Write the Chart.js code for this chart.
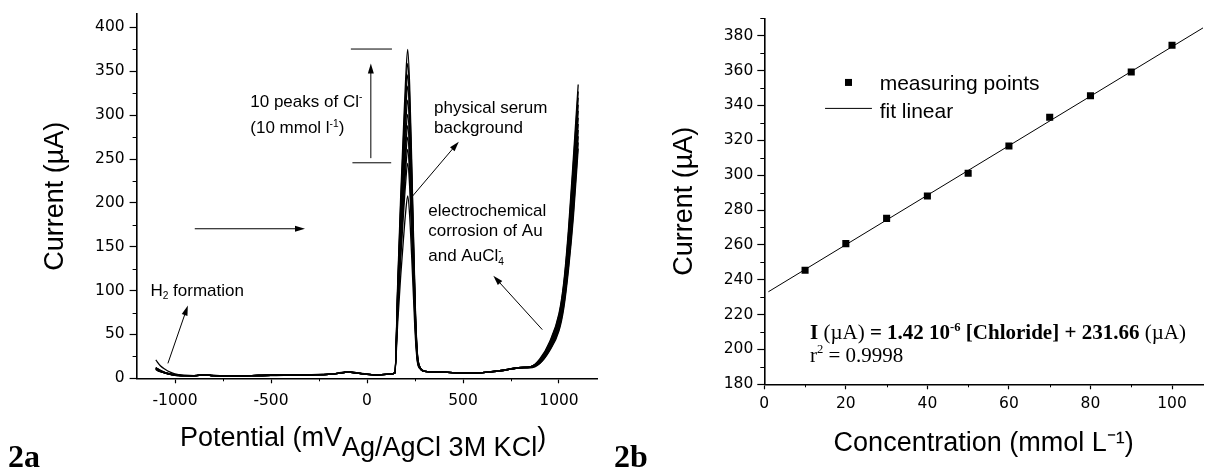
<!DOCTYPE html>
<html>
<head>
<meta charset="utf-8">
<script src="https://cdn.jsdelivr.net/npm/chart.js@4.4.0/dist/chart.umd.min.js"></script>
<style>
  html, body { margin: 0; padding: 0; background: #fff; width: 1208px; height: 469px; overflow: hidden; }
  canvas { position: absolute; top: 0; }
  #chartA { left: 0; }
  #chartB { left: 600px; }
</style>
</head>
<body>
<canvas id="chartA" width="600" height="469"></canvas>
<canvas id="chartB" width="608" height="469"></canvas>
<script>
// ---- 2a : sweeps in physiological serum + 10 chloride additions ----
var potential = [-1100, -1075, -1050, -1025, -1000, -950, -900, -850, -800, -700, -600, -500, -400, -300, -200, -150, -100, -50, 0, 50, 100,
  145, 160, 175, 190, 200, 212, 222, 232, 242, 252, 262, 275, 300, 400, 500, 600, 700, 800, 850, 900, 950, 1000, 1025, 1050, 1075, 1100];

var serumBackground = [21, 14, 10, 7, 5, 3.5, 3, 4, 3.5, 2.5, 3, 3.5, 3.5, 4, 4.5, 5.5, 7, 6, 4.5, 4, 4.5,
  6, 63, 115, 159, 186, 208, 186, 142, 93, 46, 19, 11, 8, 7, 6, 6.5, 8.5, 12, 12, 17, 31, 54, 80, 125, 184, 262];
var chloride1 = [12, 8, 6, 5, 4, 3, 3, 3.5, 3, 2.5, 3, 3.5, 3.5, 4, 4.5, 5.5, 7, 6, 4.5, 4, 4.5,
  6, 73, 135, 187, 219, 245, 219, 167, 109, 54, 21, 12, 8, 7, 6, 6.5, 8.5, 12, 12.5, 17, 32, 56, 83, 129, 190, 269];
var chloride2 = [11, 8, 6, 4.5, 3.5, 3, 2.5, 4, 3, 2.5, 3, 3, 3.5, 4, 5, 5.5, 7.5, 6, 4.5, 4, 4.5,
  6, 78, 143, 199, 233, 261, 233, 178, 116, 57, 22, 12, 8, 7, 6, 6.5, 8.5, 12, 12.5, 18, 33, 58, 86, 133, 197, 276];
var chloride3 = [10, 7.5, 6, 4.5, 3.5, 3, 3, 3.5, 3, 2.5, 3, 3.5, 3.5, 4, 4.5, 5.5, 7, 6, 4.5, 4, 4.5,
  6, 82, 151, 209, 246, 275, 246, 187, 122, 60, 23, 12, 8, 7, 6, 6.5, 8.5, 12, 12.5, 18, 34, 60, 89, 138, 203, 283];
var chloride4 = [12, 8.5, 6.5, 5, 4, 3, 3, 3.5, 3, 2.5, 3, 3.5, 4, 4, 4.5, 5.5, 7, 6, 5, 4, 4.5,
  6, 85, 158, 219, 257, 288, 257, 196, 127, 62, 24, 12, 8, 7, 6, 6.5, 8.5, 12, 12.5, 19, 35, 62, 92, 142, 210, 290];
var chloride5 = [11, 8, 6, 4.5, 4, 3, 3, 3.5, 3, 3, 3, 3.5, 3.5, 4, 4.5, 6, 7.5, 6, 4.5, 4, 4.5,
  6, 89, 165, 229, 269, 301, 269, 205, 133, 65, 25, 12.5, 8, 7, 6, 6.5, 9, 12, 13, 19, 36, 64, 95, 147, 217, 297];
var chloride6 = [10, 7.5, 6, 4.5, 3.5, 3, 3, 4, 3, 2.5, 3, 3.5, 3.5, 4, 4.5, 5.5, 7, 6, 4.5, 4, 4.5,
  6, 94, 174, 241, 283, 317, 283, 216, 140, 68, 26, 12.5, 8, 7, 6, 6.5, 9, 12, 13, 20, 37, 66, 98, 152, 224, 305];
var chloride7 = [12, 9, 6.5, 5, 4, 3, 3, 3.5, 3, 2.5, 3, 3.5, 3.5, 4, 4.5, 5.5, 7, 6, 4.5, 4, 4.5,
  6, 98, 182, 253, 298, 333, 298, 227, 147, 71, 27, 12.5, 8, 7, 6, 6.5, 9, 12.5, 13, 20, 38, 68, 101, 157, 231, 312];
var chloride8 = [11, 8, 6, 4.5, 3.5, 3, 3, 3.5, 3, 2.5, 3, 3.5, 3.5, 4, 4.5, 5.5, 7, 6, 4.5, 4, 4.5,
  6, 102, 189, 263, 309, 346, 309, 235, 152, 74, 28, 13, 8, 7, 6, 6.5, 9, 12.5, 13, 21, 39, 70, 104, 162, 238, 320];
var chloride9 = [10, 7.5, 6, 4.5, 4, 3, 3, 4, 3, 2.5, 3, 3.5, 3.5, 4, 4.5, 5.5, 7, 6, 4.5, 4, 4.5,
  6, 105, 196, 273, 321, 359, 321, 244, 158, 77, 29, 13, 8, 7, 6, 6.5, 9, 12.5, 13, 21, 40, 72, 107, 167, 245, 327];
var chloride10 = [12, 8.5, 6.5, 5, 4, 3, 3, 3.5, 3, 2.5, 3, 3.5, 3.5, 4, 4.5, 5.5, 7.5, 6, 4.5, 4, 4.5,
  6, 110, 205, 285, 335, 375, 335, 255, 165, 80, 30, 13, 8, 7, 6, 6.5, 9, 12.5, 13, 22, 41, 74, 110, 172, 252, 335];

var sweeps = [serumBackground, chloride1, chloride2, chloride3, chloride4, chloride5,
  chloride6, chloride7, chloride8, chloride9, chloride10];

var xTicksA = [-1000, -500, 0, 500, 1000];
var xMinorA = [-750, -250, 250, 750];
var yTicksA = [0, 50, 100, 150, 200, 250, 300, 350, 400];
var yMinorA = [25, 75, 125, 175, 225, 275, 325, 375];

// ---- 2b : calibration ----
var concentration = [10, 20, 30, 40, 50, 60, 70, 80, 90, 100];
var peakCurrent = [245.4, 260.7, 275.2, 288.0, 301.1, 316.7, 333.2, 345.6, 359.2, 374.5];
var fitX = [1, 110];
var fitY = [233.1, 387.9];

var xTicksB = [0, 20, 40, 60, 80, 100];
var xMinorB = [10, 30, 50, 70, 90];
var yTicksB = [180, 200, 220, 240, 260, 280, 300, 320, 340, 360, 380];
var yMinorB = [190, 210, 230, 250, 270, 290, 310, 330, 350, 370, 390];

Chart.defaults.font.family = '"Liberation Sans", Arial, sans-serif';
Chart.defaults.color = '#000';

var SANS = '"Liberation Sans", Arial, sans-serif';
var SERIF = '"Liberation Serif", "Times New Roman", serif';

function line(ctx, x1, y1, x2, y2) {
  ctx.beginPath(); ctx.moveTo(x1, y1); ctx.lineTo(x2, y2); ctx.stroke();
}

// arrow with its head at (x2, y2)
function arrow(ctx, x1, y1, x2, y2) {
  var a = Math.atan2(y2 - y1, x2 - x1), L = 10, W = 3;
  var c = Math.cos(a), s = Math.sin(a);
  line(ctx, x1, y1, x2 - c * L * 0.7, y2 - s * L * 0.7);
  ctx.beginPath();
  ctx.moveTo(x2, y2);
  ctx.lineTo(x2 - c * L + s * W, y2 - s * L - c * W);
  ctx.lineTo(x2 - c * L - s * W, y2 - s * L + c * W);
  ctx.closePath(); ctx.fill();
}

// text runs with sub/superscripts, y is the baseline
function rich(ctx, x, y, parts, size, family) {
  var lastX = x;
  ctx.textAlign = 'left'; ctx.textBaseline = 'alphabetic';
  parts.forEach(function (p) {
    var small = p.k === 'sup' || p.k === 'sub';
    var sz = small ? size * 0.6 : size;
    var dy = p.k === 'sup' ? -size * 0.4 : p.k === 'sub' ? size * 0.22 : p.k === 'low' ? 10 : 0;
    ctx.font = (p.b ? 'bold ' : '') + sz + 'px ' + family;
    var startX = p.stack ? lastX : x;
    ctx.fillText(p.t, startX, y + dy);
    var w = ctx.measureText(p.t).width;
    if (p.stack) { x = Math.max(x, startX + w); } else { lastX = x; x += w; }
  });
}

function minorTicks(ctx, ca, xs, ys) {
  xs.forEach(function (x) { x = Math.round(x) + 0.5; line(ctx, x, ca.bottom, x, ca.bottom + 3); });
  ys.forEach(function (y) { y = Math.round(y) + 0.5; line(ctx, ca.left - 4, y, ca.left, y); });
}

function axisOpts(ticks, tickLen, pad) {
  return {
    afterBuildTicks: function (s) { s.ticks = ticks.map(function (v) { return { value: v }; }); },
    grid: { drawOnChartArea: false, drawTicks: true, tickLength: tickLen, tickColor: '#000', tickWidth: 1.2 },
    border: { display: true, color: '#000', width: 1.6 },
    ticks: { color: '#000', padding: pad, autoSkip: false, maxRotation: 0,
      font: { family: '"DejaVu Sans", sans-serif', size: 15.5 },
      callback: function (v) { return String(v); } }
  };
}

var annotA = {
  id: 'annotA',
  afterDraw: function (chart) {
    var ctx = chart.ctx, xs = chart.scales.x, ys = chart.scales.y, ca = chart.chartArea;
    var px = function (v) { return xs.getPixelForValue(v); };
    var py = function (v) { return ys.getPixelForValue(v); };
    ctx.save();
    ctx.strokeStyle = '#000'; ctx.fillStyle = '#000'; ctx.lineWidth = 1;
    minorTicks(ctx, ca, xMinorA.map(px), yMinorA.map(py));

    line(ctx, px(-84), py(375.4), px(130), py(375.4));
    line(ctx, px(-76), py(245.7), px(126), py(245.7));
    arrow(ctx, px(20), py(251), px(20), py(359));
    arrow(ctx, px(-897), py(170.5), px(-323), py(170.5));
    arrow(ctx, px(229), py(205.6), px(478), py(269.8));
    arrow(ctx, px(913), py(55.5), px(658), py(117));
    arrow(ctx, px(-1037), py(17), px(-933), py(83));

    rich(ctx, px(-608), py(309.4), [{ t: '10 peaks of Cl' }, { t: '-', k: 'sup' }], 17, SANS);
    rich(ctx, px(-608), py(279.2), [{ t: '(10 mmol l' }, { t: '-1', k: 'sup' }, { t: ')' }], 17, SANS);
    rich(ctx, px(349), py(303), [{ t: 'physical serum' }], 17, SANS);
    rich(ctx, px(349), py(279.2), [{ t: 'background' }], 17, SANS);
    rich(ctx, px(319), py(184.9), [{ t: 'electrochemical' }], 17, SANS);
    rich(ctx, px(319), py(162.2), [{ t: 'corrosion of Au' }], 17, SANS);
    rich(ctx, px(319), py(133.9), [{ t: 'and AuCl' }, { t: '4', k: 'sub' }, { t: '-', k: 'sup', stack: true }], 17, SANS);
    rich(ctx, px(-1128), py(94.3), [{ t: 'H' }, { t: '2', k: 'sub' }, { t: ' formation' }], 17, SANS);

    // axis title with the reference electrode as a full-size subscript
    rich(ctx, 180, 446, [{ t: 'Potential (mV' }, { t: 'Ag/AgCl 3M KCl', k: 'low' }, { t: ')' }], 27, SANS);
    rich(ctx, 8, 467, [{ t: '2a', b: 1 }], 32, SERIF);
    ctx.restore();
  }
};

var annotB = {
  id: 'annotB',
  afterDraw: function (chart) {
    var ctx = chart.ctx, xs = chart.scales.x, ys = chart.scales.y, ca = chart.chartArea;
    var px = function (v) { return xs.getPixelForValue(v); };
    var py = function (v) { return ys.getPixelForValue(v); };
    ctx.save();
    ctx.strokeStyle = '#000'; ctx.fillStyle = '#000'; ctx.lineWidth = 1;
    minorTicks(ctx, ca, xMinorB.map(px), yMinorB.map(py));

    // legend
    var sq = 3.5;
    ctx.fillRect(px(20.65) - sq, py(353.2) - sq, sq * 2, sq * 2);
    line(ctx, px(14.9), py(338.3), px(26.4), py(338.3));
    rich(ctx, px(28.3), py(348.6), [{ t: 'measuring points' }], 21, SANS);
    rich(ctx, px(28.3), py(333.0), [{ t: 'fit linear' }], 21, SANS);

    rich(ctx, px(11.2), py(205.8), [
      { t: 'I', b: 1 }, { t: ' (\u00b5A) ' }, { t: '= 1.42 10', b: 1 }, { t: '-6', k: 'sup', b: 1 },
      { t: ' [Chloride] + 231.66', b: 1 }, { t: ' (\u00b5A)' }], 21, SERIF);
    rich(ctx, px(11.2), py(193.0), [{ t: 'r' }, { t: '2', k: 'sup' }, { t: ' = 0.9998' }], 21, SERIF);

    rich(ctx, 14, 467, [{ t: '2b', b: 1 }], 32, SERIF);
    ctx.restore();
  }
};

var chartA = new Chart(document.getElementById('chartA'), {
  type: 'line',
  data: {
    datasets: sweeps.map(function (curve) {
      return {
        data: potential.map(function (p, i) { return { x: p, y: curve[i] }; }),
        borderColor: '#000', borderWidth: 1.3, pointRadius: 0, fill: false,
        cubicInterpolationMode: 'monotone'
      };
    })
  },
  options: {
    responsive: false, animation: false, events: [],
    layout: { padding: { left: 0, right: 2.6, top: 11.7, bottom: 0 } },
    plugins: { legend: { display: false }, tooltip: { enabled: false } },
    scales: {
      x: Object.assign(axisOpts(xTicksA, 5, 8), {
        type: 'linear', min: -1200, max: 1200,
        afterFit: function (s) { s.height = 90.7; }
      }),
      y: Object.assign(axisOpts(yTicksA, 7, 5), {
        min: 0, max: 415,
        afterFit: function (s) { s.width = 136.6; },
        title: { display: true, text: 'Current (\u00b5A)', color: '#000',
          font: { family: SANS, size: 27 }, padding: { top: 39, bottom: 0 } }
      })
    }
  },
  plugins: [annotA]
});

var chartB = new Chart(document.getElementById('chartB'), {
  type: 'line',
  data: {
    datasets: [{
      label: 'measuring points',
      data: concentration.map(function (c, i) { return { x: c, y: peakCurrent[i] }; }),
      showLine: false, pointStyle: 'rect', pointRadius: 5,
      pointBackgroundColor: '#000', pointBorderWidth: 0
    }, {
      label: 'fit linear',
      data: fitX.map(function (c, i) { return { x: c, y: fitY[i] }; }),
      borderColor: '#000', borderWidth: 1, pointRadius: 0, fill: false
    }]
  },
  options: {
    responsive: false, animation: false, events: [],
    layout: { padding: { left: 0, right: 0.5, top: 18.3, bottom: 0 } },
    plugins: { legend: { display: false }, tooltip: { enabled: false } },
    scales: {
      x: Object.assign(axisOpts(xTicksB, 5, 5), {
        type: 'linear', min: 0, max: 107.6,
        afterFit: function (s) { s.height = 84.7; },
        title: { display: true, text: 'Concentration (mmol L\u207b\u00b9)', color: '#000',
          font: { family: SANS, size: 27 }, padding: { top: 9, bottom: 9 } }
      }),
      y: Object.assign(axisOpts(yTicksB, 7, 4), {
        min: 180, max: 390,
        afterFit: function (s) { s.width = 164.3; },
        title: { display: true, text: 'Current (\u00b5A)', color: '#000',
          font: { family: SANS, size: 27 }, padding: { top: 68, bottom: 0 } }
      })
    }
  },
  plugins: [annotB]
});
</script>
</body>
</html>
